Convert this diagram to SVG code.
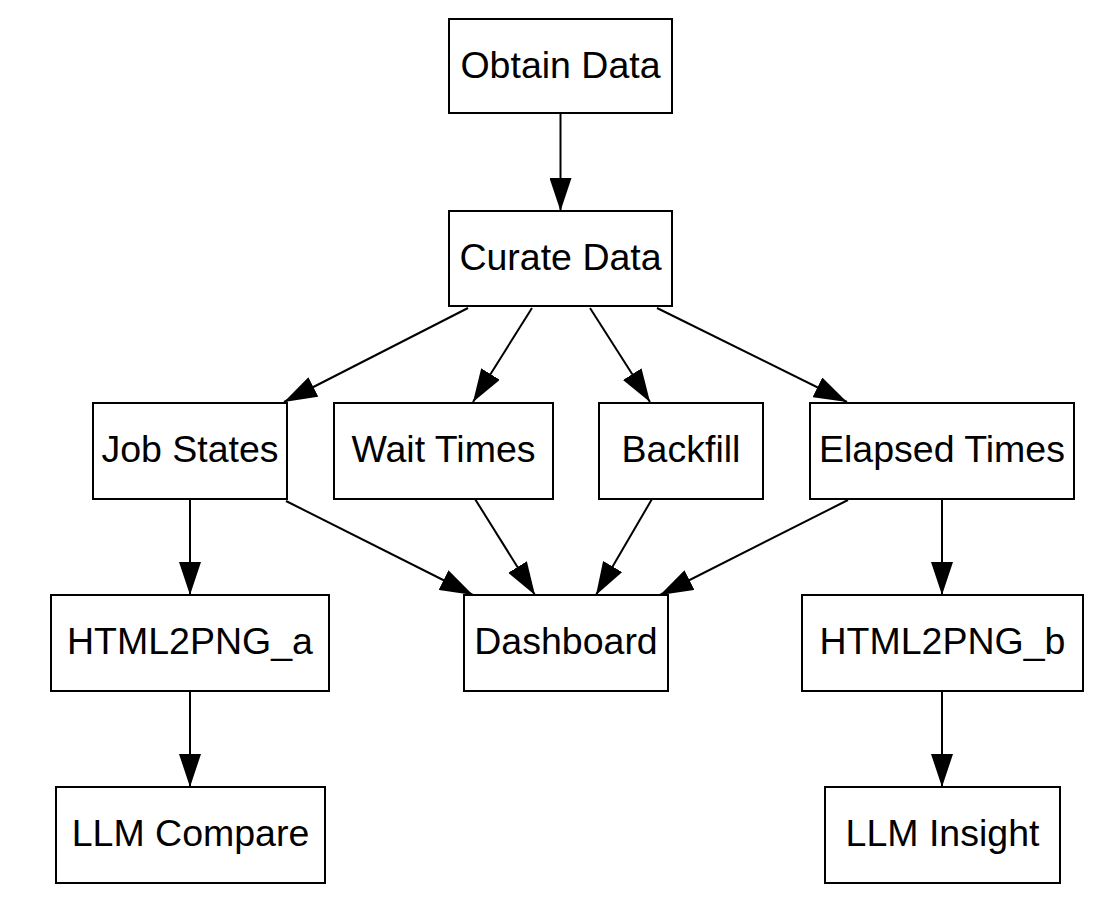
<svg xmlns="http://www.w3.org/2000/svg" width="1106" height="914" viewBox="0 0 1106 914">
<style>
.n rect{fill:#fff;stroke:#000;stroke-width:2}
.n text{font-family:"Liberation Sans",Arial,Helvetica,sans-serif;font-size:37.5px;fill:#000;text-anchor:middle}
.e line{stroke:#000;stroke-width:2;marker-end:url(#ah)}
</style>
<defs>
<marker id="ah" viewBox="0 0 34 22" refX="33" refY="11" markerWidth="34" markerHeight="22" markerUnits="userSpaceOnUse" orient="auto">
<path d="M0,0 L33,11 L0,22 Z" fill="#000"/>
</marker>
</defs>
<rect width="1106" height="914" fill="#fff"/>
<g id="connectors" class="e">
<line x1="560.5" y1="113" x2="560.5" y2="211"/>
<line x1="468" y1="308" x2="284" y2="402"/>
<line x1="532" y1="308" x2="473" y2="402"/>
<line x1="590" y1="308" x2="650" y2="402"/>
<line x1="657" y1="308" x2="847" y2="402"/>
<line x1="190" y1="499" x2="190" y2="595"/>
<line x1="286" y1="501" x2="473" y2="595"/>
<line x1="475" y1="499" x2="535" y2="595"/>
<line x1="652" y1="499" x2="596" y2="595"/>
<line x1="848" y1="500" x2="660" y2="595"/>
<line x1="942" y1="499" x2="942" y2="595"/>
<line x1="190" y1="691" x2="190" y2="787"/>
<line x1="942" y1="691" x2="942" y2="787"/>
</g>
<g id="obtain" class="n"><rect x="449" y="19" width="223" height="94"/><text x="560.5" y="78">Obtain Data</text></g>
<g id="curate" class="n"><rect x="449" y="211" width="223" height="95"/><text x="560.5" y="270">Curate Data</text></g>
<g id="jobstates" class="n"><rect x="93" y="403" width="194" height="96"/><text x="190" y="462">Job States</text></g>
<g id="waittimes" class="n"><rect x="334" y="403" width="219" height="96"/><text x="443.5" y="462">Wait Times</text></g>
<g id="backfill" class="n"><rect x="599" y="403" width="164" height="96"/><text x="681" y="462">Backfill</text></g>
<g id="elapsed" class="n"><rect x="810" y="403" width="264" height="96"/><text x="942" y="462">Elapsed Times</text></g>
<g id="html2png_a" class="n"><rect x="51" y="595" width="278" height="96"/><text x="190" y="654">HTML2PNG_a</text></g>
<g id="dashboard" class="n"><rect x="464" y="595" width="204" height="96"/><text x="566" y="654">Dashboard</text></g>
<g id="html2png_b" class="n"><rect x="802" y="595" width="281" height="96"/><text x="942.5" y="654">HTML2PNG_b</text></g>
<g id="llmcompare" class="n"><rect x="56" y="787" width="269" height="96"/><text x="190.5" y="846">LLM Compare</text></g>
<g id="llminsight" class="n"><rect x="825" y="787" width="235" height="96"/><text x="942.5" y="846">LLM Insight</text></g>
</svg>
